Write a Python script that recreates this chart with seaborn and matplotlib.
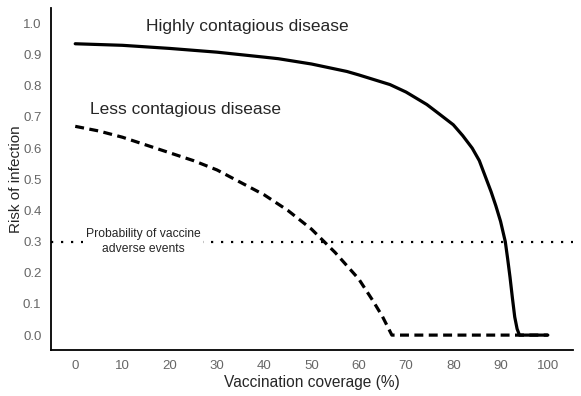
import numpy as np
import pandas as pd
import matplotlib
matplotlib.use("Agg")
import matplotlib.pyplot as plt
import seaborn as sns

# Values
high_coverage = [0, 10, 20, 30, 40, 43, 50, 57.5, 60, 66.6, 70, 74.4, 77, 80, 82, 84, 85.5,
                 87, 88, 89, 90, 91, 91.5, 92, 92.5, 93, 93.5, 94, 100]
high_risk = [0.935, 0.93, 0.92, 0.908, 0.892, 0.887, 0.87, 0.846, 0.835, 0.804, 0.78, 0.74,
             0.71, 0.675, 0.64, 0.60, 0.56, 0.50, 0.46, 0.415, 0.365, 0.30, 0.245, 0.186,
             0.12, 0.058, 0.02, 0.0, 0.0]

low_coverage = [0, 5, 10, 15, 20, 25, 30, 35, 40, 45, 50, 55, 60, 63, 65, 67, 100]
low_risk = [0.67, 0.655, 0.635, 0.61, 0.585, 0.56, 0.53, 0.49, 0.45, 0.40, 0.34, 0.265,
            0.18, 0.11, 0.06, 0.0, 0.0]

adverse_risk = 0.3
x_ticks = list(range(0, 101, 10))
y_ticks = [round(v * 0.1, 1) for v in range(11)]

high = pd.DataFrame({"coverage": high_coverage, "risk": high_risk})
low = pd.DataFrame({"coverage": low_coverage, "risk": low_risk})

sns.set_style("white")
plt.rcParams["font.family"] = ["Liberation Sans", "DejaVu Sans"]

fig = plt.figure(figsize=(5.81, 3.96), dpi=100)
ax = fig.add_axes([0.088, 0.116, 0.898, 0.864])

sns.lineplot(data=high, x="coverage", y="risk", color="black", linewidth=2.3, ax=ax)
sns.lineplot(data=low, x="coverage", y="risk", color="black", linewidth=2.3,
             linestyle=(0, (2.8, 1.7)), ax=ax)
ax.axhline(adverse_risk, color="black", linewidth=1.6, linestyle=(0, (1, 3.5)), zorder=1)

ax.text(14.4, adverse_risk, "Probability of vaccine\nadverse events", ha="center", va="center",
        fontsize=8.7, linespacing=1.25,
        bbox=dict(facecolor="white", edgecolor="none", pad=2), zorder=3)
ax.text(36.4, 0.99, "Highly contagious disease", ha="center", va="center", fontsize=12.5)
ax.text(23.3, 0.723, "Less contagious disease", ha="center", va="center", fontsize=12.5)

ax.set_xlim(-5.1, 105.3)
ax.set_ylim(-0.048, 1.05)
ax.set_xticks(x_ticks)
ax.set_yticks(y_ticks)
ax.set_yticklabels([f"{v:.1f}" for v in y_ticks])
ax.tick_params(axis="both", length=0, labelsize=9.5, labelcolor="#666666", pad=7)
ax.set_xlabel("Vaccination coverage (%)", fontsize=11.2, labelpad=2)
ax.set_ylabel("Risk of infection", fontsize=11, labelpad=0)

sns.despine(ax=ax)
for side in ["left", "bottom"]:
    ax.spines[side].set_color("black")
    ax.spines[side].set_linewidth(1.3)

fig.savefig("out.png", dpi=100)
